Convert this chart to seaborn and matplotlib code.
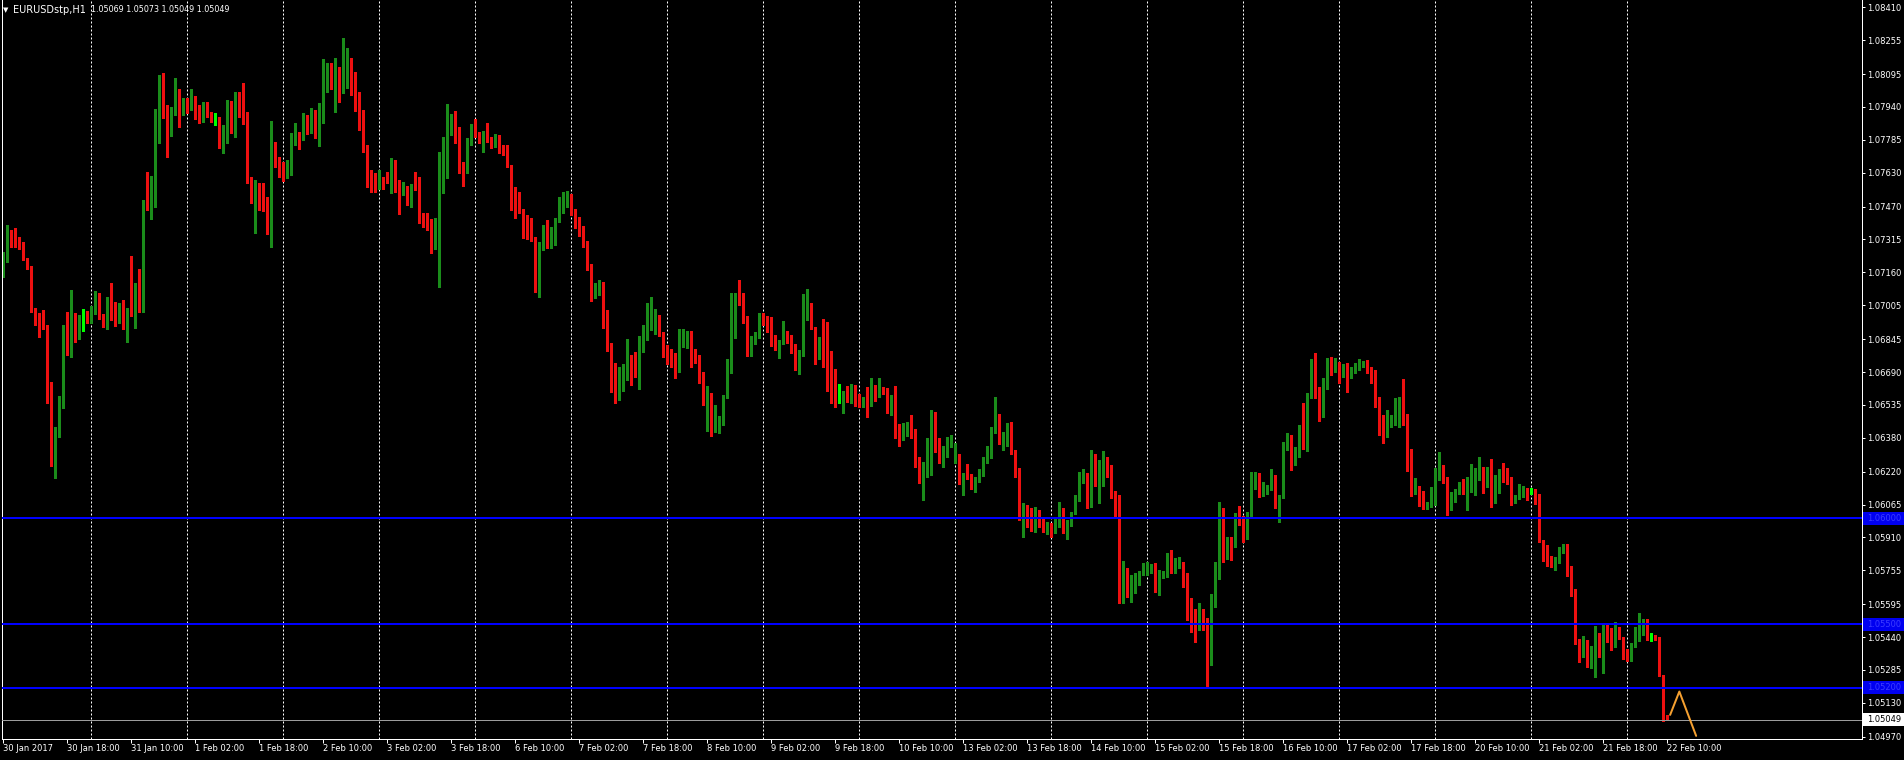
import numpy as np
import pandas as pd
import matplotlib
matplotlib.use("Agg")
import matplotlib.pyplot as plt
import matplotlib.transforms as mtransforms
from matplotlib.patches import Rectangle
import seaborn as sns

# EURUSDstp H1 quotes in points (1e-5), one row per trading day,
# first bar is 30 Jan 2017 02:00 (bar index 2, index 0 = 30 Jan 00:00)
first_bar = 2
first_open = 107156
close_pts = [
    107250, 107352, 107308, 107297, 107276, 107223, 107187, 106982, 106946, 106937, 106907, 106590, 106275, 106432, 106577, 106865, 106781, 106915, 106901, 106931, 106931, 106923,  # 30 Jan
    106990, 107058, 106964, 106907, 107037, 106954, 106939, 106982, 106904, 106986, 106967, 107093, 106990, 107489, 107457, 107533, 107910, 108075, 107918, 107816, 107910, 108023, 107941, 107957,  # 31 Jan
    107938, 107992, 107938, 107910, 107938, 107902, 107886, 107885, 107769, 107800, 107960, 107824, 108011, 107996, 107860, 107583, 107556, 107567, 107541, 107509, 107347, 107745, 107674, 107658,  # 1 Feb
    107646, 107671, 107808, 107813, 107787, 107866, 107824, 107913, 107792, 107907, 108114, 108133, 108070, 108096, 108017, 108122, 108158, 108036, 108001, 107855, 107737, 107624, 107603, 107564,  # 2 Feb
    107603, 107592, 107588, 107674, 107583, 107533, 107561, 107548, 107572, 107552, 107415, 107394, 107368, 107284, 107331, 107545, 107624, 107863, 107891, 107816, 107662, 107640, 107781, 107831,  # 3 Feb
    107808, 107803, 107824, 107784, 107753, 107803, 107734, 107721, 107658, 107501, 107482, 107446, 107383, 107352, 107316, 107108, 107269, 107375, 107281, 107328, 107410, 107457, 107500, 107520,  # 6 Feb
    107450, 107400, 107360, 107300, 107190, 107061, 107085, 107108, 106912, 106797, 106723, 106577, 106665, 106703, 106750, 106743, 106699, 106838, 106888, 106907, 106932, 106943, 106864, 106797,  # 7 Feb
    106781, 106762, 106759, 106838, 106849, 106875, 106750, 106743, 106644, 106561, 106586, 106429, 106451, 106479, 106574, 106692, 106979, 107053, 107048, 106943, 106786, 106849, 106864, 106954,  # 8 Feb
    106943, 106891, 106857, 106833, 106838, 106880, 106860, 106791, 106703, 106778, 106979, 107006, 106896, 106786, 106833, 106797, 106640, 106633, 106555, 106555, 106589, 106561, 106613, 106534,  # 9 Feb
    106526, 106558, 106534, 106597, 106577, 106608, 106602, 106511, 106582, 106385, 106375, 106409, 106435, 106382, 106247, 106178, 106209, 106236, 106479, 106322, 106303, 106319, 106369, 106385,  # 10 Feb
    106303, 106173, 106204, 106188, 106141, 106180, 106215, 106272, 106294, 106416, 106479, 106356, 106385, 106408, 106309, 106220, 105999, 106031, 105999, 105945, 106026, 105979, 105945, 105963,  # 13 Feb
    105945, 105976, 105992, 105945, 105973, 106026, 106094, 106188, 106209, 106055, 106298, 106162, 106167, 106272, 106204, 106114, 106079, 105623, 105756, 105638, 105690, 105722, 105748, 105759,  # 14 Feb
    105764, 105775, 105670, 105728, 105741, 105827, 105748, 105780, 105791, 105733, 105615, 105552, 105520, 105565, 105497, 105329, 105599, 105722, 105958, 105822, 105890, 105879, 106011, 105973,  # 15 Feb
    105906, 106020, 106200, 106204, 106110, 106126, 106146, 106196, 106058, 106105, 106338, 106385, 106299, 106330, 106393, 106351, 106574, 106668, 106582, 106514, 106621, 106750, 106715, 106731,  # 16 Feb
    106668, 106696, 106665, 106700, 106712, 106728, 106731, 106696, 106649, 106534, 106464, 106417, 106440, 106451, 106464, 106539, 106448, 106244, 106126, 106130, 106099, 106047, 106071, 106134,  # 17 Feb
    106196, 106244, 106181, 106090, 106094, 106121, 106165, 106121, 106137, 106149, 106215, 106219, 106184, 106225, 106084, 106197, 106216, 106189, 106178, 106079, 106095, 106131, 106142, 106118,  # 20 Feb
    106118, 106074, 105890, 105848, 105812, 105785, 105804, 105843, 105875, 105772, 105643, 105419, 105376, 105423, 105304, 105364, 105411, 105356, 105502, 105426, 105403, 105471, 105434, 105340,  # 21 Feb
    105335, 105403, 105434, 105493, 105505, 105440, 105440, 105430, 105257, 105069, 105049,  # 22 Feb
]
high_pts = [
    107258, 107383, 107360, 107368, 107328, 107305, 107229, 107190, 106993, 106967, 106982, 106912, 106645, 106432, 106577, 106912, 106971, 107077, 106967, 106959, 106986, 106979,
    107001, 107072, 107061, 106964, 107045, 107111, 107022, 107014, 107030, 106990, 107237, 107108, 107174, 107501, 107635, 107614, 107929, 108091, 108102, 107949, 107941, 108075, 108023, 107981,
    107981, 108023, 107992, 107949, 107965, 107965, 107918, 107910, 107894, 107855, 107973, 107970, 108012, 108012, 108055, 107918, 107611, 107596, 107580, 107580, 107517, 107875, 107776, 107706,
    107682, 107690, 107816, 107863, 107824, 107910, 107902, 107934, 107926, 107957, 108165, 108146, 108149, 108169, 108127, 108264, 108217, 108169, 108107, 108012, 107926, 107761, 107643, 107627,
    107643, 107608, 107635, 107698, 107690, 107596, 107588, 107567, 107577, 107635, 107608, 107438, 107442, 107410, 107415, 107729, 107800, 107954, 107907, 107923, 107844, 107682, 107792, 107860,
    107882, 107824, 107828, 107866, 107800, 107812, 107808, 107761, 107761, 107666, 107561, 107541, 107457, 107431, 107415, 107328, 107305, 107383, 107407, 107372, 107415, 107517, 107540, 107545,
    107530, 107460, 107420, 107380, 107310, 107200, 107111, 107124, 107116, 106982, 106828, 106731, 106715, 106728, 106844, 106770, 106786, 106860, 106912, 107017, 107042, 106986, 106959, 106880,
    106817, 106797, 106778, 106891, 106891, 106885, 106885, 106797, 106770, 106692, 106624, 106593, 106534, 106482, 106582, 106750, 107064, 107064, 107124, 107061, 106954, 106860, 106880, 106967,
    106970, 106954, 106948, 106864, 106841, 106932, 106885, 106864, 106822, 106794, 107058, 107080, 107014, 106904, 106857, 106938, 106927, 106791, 106703, 106633, 106602, 106624, 106633, 106629,
    106586, 106574, 106618, 106660, 106629, 106660, 106618, 106613, 106582, 106624, 106445, 106451, 106456, 106487, 106420, 106291, 106267, 106377, 106511, 106503, 106377, 106341, 106385, 106393,
    106353, 106303, 106212, 106256, 106209, 106196, 106231, 106287, 106341, 106432, 106573, 106492, 106408, 106448, 106455, 106322, 106235, 106074, 106063, 106047, 106052, 106039, 105999, 105983,
    105976, 105995, 106078, 106047, 105992, 106031, 106110, 106220, 106231, 106215, 106322, 106303, 106275, 106319, 106287, 106251, 106130, 106110, 105800, 105764, 105733, 105741, 105753, 105791,
    105796, 105785, 105788, 105756, 105753, 105835, 105851, 105811, 105816, 105796, 105741, 105623, 105571, 105599, 105571, 105528, 105643, 105796, 106079, 106047, 105914, 105914, 106027, 106058,
    106011, 106031, 106220, 106220, 106215, 106173, 106157, 106231, 106204, 106110, 106362, 106404, 106393, 106338, 106440, 106545, 106593, 106750, 106781, 106621, 106660, 106755, 106762, 106755,
    106739, 106728, 106731, 106712, 106734, 106750, 106744, 106747, 106715, 106700, 106574, 106487, 106511, 106487, 106566, 106571, 106656, 106492, 106325, 106189, 106152, 106130, 106079, 106149,
    106236, 106314, 106251, 106193, 106126, 106137, 106173, 106184, 106196, 106256, 106236, 106291, 106241, 106241, 106279, 106205, 106231, 106263, 106236, 106194, 106110, 106162, 106153, 106142,
    106142, 106137, 106115, 105898, 105875, 105823, 105816, 105867, 105879, 105879, 105775, 105665, 105430, 105445, 105426, 105398, 105493, 105458, 105508, 105508, 105482, 105513, 105489, 105442,
    105383, 105411, 105489, 105555, 105524, 105524, 105461, 105450, 105442, 105261, 105073,
]
low_pts = [
    107140, 107210, 107281, 107281, 107269, 107218, 107174, 106971, 106912, 106857, 106891, 106545, 106247, 106189, 106385, 106519, 106770, 106762, 106833, 106844, 106885, 106920,
    106920, 106964, 106939, 106904, 106891, 106935, 106907, 106920, 106891, 106833, 106954, 106896, 106975, 106975, 107454, 107410, 107470, 107772, 107886, 107706, 107803, 107902, 107847, 107902,
    107910, 107926, 107882, 107863, 107871, 107894, 107871, 107855, 107745, 107725, 107772, 107816, 107797, 107891, 107860, 107580, 107486, 107347, 107454, 107451, 107341, 107281, 107658, 107611,
    107592, 107603, 107619, 107761, 107740, 107784, 107813, 107816, 107792, 107756, 107863, 108012, 108023, 107918, 107965, 108004, 108028, 107996, 107923, 107831, 107729, 107564, 107541, 107541,
    107552, 107552, 107580, 107533, 107541, 107435, 107525, 107478, 107467, 107548, 107394, 107375, 107360, 107250, 107269, 107089, 107533, 107603, 107808, 107772, 107630, 107567, 107627, 107761,
    107800, 107768, 107729, 107776, 107745, 107750, 107721, 107713, 107655, 107454, 107415, 107438, 107320, 107316, 107309, 107069, 107042, 107265, 107273, 107273, 107289, 107399, 107440, 107470,
    107430, 107370, 107330, 107280, 107170, 107026, 107037, 107053, 106896, 106791, 106597, 106542, 106558, 106602, 106652, 106629, 106665, 106608, 106786, 106841, 106888, 106869, 106860, 106759,
    106728, 106712, 106660, 106692, 106809, 106802, 106715, 106734, 106640, 106534, 106413, 106388, 106409, 106404, 106440, 106566, 106684, 106848, 107006, 106920, 106765, 106765, 106822, 106849,
    106912, 106880, 106813, 106794, 106754, 106822, 106828, 106781, 106699, 106681, 106765, 106935, 106891, 106728, 106750, 106715, 106602, 106545, 106523, 106545, 106495, 106550, 106542, 106530,
    106523, 106523, 106479, 106530, 106555, 106574, 106586, 106498, 106487, 106377, 106341, 106369, 106388, 106377, 106244, 106165, 106086, 106196, 106204, 106314, 106259, 106243, 106287, 106338,
    106262, 106162, 106110, 106184, 106136, 106125, 106173, 106199, 106259, 106283, 106400, 106350, 106322, 106341, 106303, 106193, 105992, 105910, 105960, 105941, 105937, 105957, 105937, 105926,
    105913, 105929, 105960, 105929, 105901, 105963, 106020, 106083, 106165, 106047, 106052, 106152, 106070, 106152, 106196, 106094, 106000, 105599, 105599, 105631, 105607, 105646, 105686, 105733,
    105733, 105741, 105654, 105638, 105717, 105725, 105741, 105741, 105764, 105678, 105520, 105466, 105418, 105473, 105473, 105206, 105308, 105583, 105712, 105796, 105807, 105803, 105863, 105969,
    105890, 105901, 106011, 106137, 106102, 106105, 106115, 106134, 106047, 105984, 106094, 106322, 106228, 106251, 106288, 106325, 106319, 106566, 106566, 106461, 106479, 106608, 106676, 106692,
    106637, 106665, 106597, 106660, 106684, 106700, 106712, 106684, 106637, 106527, 106393, 106357, 106385, 106429, 106440, 106429, 106440, 106225, 106105, 106115, 106058, 106042, 106042, 106055,
    106063, 106181, 106168, 106016, 106039, 106079, 106115, 106115, 106039, 106126, 106110, 106181, 106121, 106150, 106052, 106074, 106118, 106173, 106162, 106063, 106074, 106090, 106102, 106084,
    106115, 106068, 105886, 105801, 105775, 105772, 105757, 105791, 105835, 105728, 105634, 105408, 105320, 105348, 105298, 105293, 105250, 105348, 105269, 105419, 105379, 105395, 105430, 105335,
    105329, 105329, 105395, 105423, 105450, 105426, 105423, 105426, 105254, 105045, 105049,
]
# monday opens after the weekend gap (bar index -> open)
gap_opens = {120: 107879, 240: 106267, 360: 106063}

level_prices = [1.06000, 1.05500, 1.05200]
last_price = 1.05049
zigzag_bar = [418.7, 421.0, 425.2]
zigzag_price = [1.05073, 1.05183, 1.04974]

price_ticks = [1.08410, 1.08255, 1.08095, 1.07940, 1.07785, 1.07630, 1.07470, 1.07315,
               1.07160, 1.07005, 1.06845, 1.06690, 1.06535, 1.06380, 1.06220, 1.06065,
               1.05910, 1.05755, 1.05595, 1.05440, 1.05285, 1.05130, 1.04970]
time_tick_bars = [2, 18, 34, 50, 66, 82, 98, 114, 130, 146, 162, 178, 194, 210,
                  226, 242, 258, 274, 290, 306, 322, 338, 354, 370, 386, 402, 418]
time_tick_labels = ["30 Jan 2017", "30 Jan 18:00", "31 Jan 10:00", "1 Feb 02:00", "1 Feb 18:00",
                    "2 Feb 10:00", "3 Feb 02:00", "3 Feb 18:00", "6 Feb 10:00", "7 Feb 02:00",
                    "7 Feb 18:00", "8 Feb 10:00", "9 Feb 02:00", "9 Feb 18:00", "10 Feb 10:00",
                    "13 Feb 02:00", "13 Feb 18:00", "14 Feb 10:00", "15 Feb 02:00", "15 Feb 18:00",
                    "16 Feb 10:00", "17 Feb 02:00", "17 Feb 18:00", "20 Feb 10:00", "21 Feb 02:00",
                    "21 Feb 18:00", "22 Feb 10:00"]
day_start_bars = [24, 48, 72, 96, 120, 144, 168, 192, 216, 240, 264, 288, 312, 336, 360, 384, 408]

assert len(close_pts) == len(high_pts) == len(low_pts), (len(close_pts), len(high_pts), len(low_pts))

# build OHLC table
df = pd.DataFrame({
    "bar": np.arange(first_bar, first_bar + len(close_pts)),
    "close": np.array(close_pts) / 1e5,
    "high": np.array(high_pts) / 1e5,
    "low": np.array(low_pts) / 1e5,
})
df["open"] = df["close"].shift(1)
df.loc[0, "open"] = first_open / 1e5
for b, o in gap_opens.items():
    df.loc[df["bar"] == b, "open"] = o / 1e5
df["high"] = df[["high", "open", "close"]].max(axis=1)
df["low"] = df[["low", "open", "close"]].min(axis=1)

bull, bear, doji = "#1a8c1a", "#ee1010", "#00ff00"
colors = np.where(np.isclose(df["close"], df["open"]), doji,
                  np.where(df["close"] > df["open"], bull, bear))

sns.set_theme(style="dark")
plt.rcParams["font.family"] = ["DejaVu Sans"]

W, H = 1904, 760
fig = plt.figure(figsize=(W / 100, H / 100), dpi=100, facecolor="black")
ax = fig.add_axes([2 / W, 21 / H, 1860 / W, 739 / H])
ax.set_facecolor("black")
ax.grid(False)

y_lo, y_hi = 1.049592, 1.084444
px = (y_hi - y_lo) / 739

# day separators
ax.vlines(day_start_bars, y_lo, y_hi, colors="white", linestyles=(0, (2, 2)),
          linewidth=0.72, zorder=1)

# candles
ax.vlines(df["bar"], df["low"], df["high"], colors=colors, linewidth=0.75,
          zorder=2, antialiased=False)
body_lo = df[["open", "close"]].min(axis=1)
body_h = np.maximum((df["close"] - df["open"]).abs(), px)
ax.bar(df["bar"], body_h, bottom=body_lo, width=0.75, color=colors,
       linewidth=0, zorder=2, antialiased=False)

# horizontal levels and bid line
for p in level_prices:
    ax.axhline(p, color="#0000ff", linewidth=1.44, zorder=3)
ax.axhline(last_price, color="#9c9c9c", linewidth=0.72, zorder=3)

# orange zigzag
sns.lineplot(x=zigzag_bar, y=zigzag_price, ax=ax, color="#f5a030", linewidth=1.44,
             sort=False, legend=False, zorder=4)

ax.set_xlim(1.667, 466.667)
ax.set_ylim(y_lo, y_hi)
ax.set_xlabel("")
ax.set_ylabel("")

for s in ["left", "right", "bottom"]:
    ax.spines[s].set_visible(True)
    ax.spines[s].set_color("white")
    ax.spines[s].set_linewidth(0.72)
ax.spines["top"].set_visible(False)

ax.yaxis.tick_right()
ax.set_yticks(price_ticks)
ax.set_yticklabels([f"{v:.5f}" for v in price_ticks])
ax.tick_params(axis="y", left=False, labelleft=False, right=True, labelright=True,
               colors="white", length=2.2, width=0.72, labelsize=6, pad=1.5, direction="out")

ax.set_xticks(time_tick_bars)
ax.set_xticklabels(time_tick_labels)
ax.tick_params(axis="x", bottom=True, colors="white", length=2.9, width=0.72,
               labelsize=6, pad=0.8, direction="out")
for lbl in ax.get_xticklabels():
    lbl.set_horizontalalignment("left")

# price boxes on the axis
trans = mtransforms.blended_transform_factory(fig.transFigure, ax.transData)
for p in level_prices:
    ax.add_patch(Rectangle((1863 / W, p - 6.5 * px), 41 / W, 13 * px, transform=trans,
                           facecolor="#0000f0", edgecolor="none", clip_on=False, zorder=5))
    ax.text(1867 / W, p, f"{p:.5f}", transform=trans, color="#3c3cff", fontsize=6,
            va="center", ha="left", clip_on=False, zorder=6)
ax.add_patch(Rectangle((1863 / W, last_price - 6.5 * px), 41 / W, 13 * px, transform=trans,
                       facecolor="white", edgecolor="none", clip_on=False, zorder=5))
ax.text(1867 / W, last_price, f"{last_price:.5f}", transform=trans, color="black",
        fontsize=6, va="center", ha="left", clip_on=False, zorder=6)

# header
last = df.iloc[-1]
ty = 1 - 10 / H
fig.text(3 / W, ty, "\u25bc", color="white", fontsize=5, va="center", ha="left")
fig.text(13 / W, ty, "EURUSDstp,H1", color="white", fontsize=7, va="center", ha="left")
fig.text(91 / W, ty, f"{last['open']:.5f} {last['high']:.5f} {last['low']:.5f} {last['close']:.5f}",
         color="white", fontsize=5.8, va="center", ha="left")

fig.savefig("out.png", dpi=100, facecolor="black")
